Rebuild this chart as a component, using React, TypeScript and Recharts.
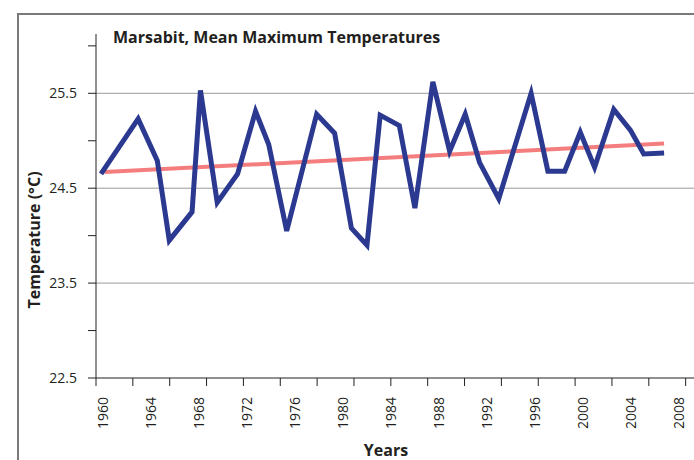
import React from "react";
import { LineChart, Line, XAxis, YAxis, ReferenceLine } from "recharts";

// Mean maximum temperature series (year positions as drawn, °C)
const years = [
  1960, 1963.1, 1964.7, 1965.7, 1967.6, 1968.3, 1969.7, 1971.4, 1972.9, 1974.0,
  1975.5, 1978.0, 1979.5, 1980.9, 1982.2, 1983.3, 1984.9, 1986.2, 1987.7, 1989.1,
  1990.4, 1991.6, 1993.2, 1995.9, 1997.3, 1998.7, 2000.0, 2001.2, 2002.8, 2004.2,
  2005.3, 2007,
];
const temps = [
  24.65, 25.23, 24.79, 23.95, 24.25, 25.53, 24.35, 24.65, 25.31, 24.96,
  24.05, 25.28, 25.08, 24.08, 23.9, 25.27, 25.16, 24.29, 25.62, 24.89,
  25.28, 24.77, 24.39, 25.5, 24.68, 24.68, 25.09, 24.72, 25.33, 25.11,
  24.86, 24.87,
];

// Linear trend (as drawn)
const trendYears = [1960.3, 2007];
const trendTemps = [24.67, 24.97];

// Axis labels / ticks
const xLabelYears = [1960, 1964, 1968, 1972, 1976, 1980, 1984, 1988, 1992, 1996, 2000, 2004, 2008];
const xMarkStart = 1959.583;
const xMarkStep = 3.076;
const xMarks = Array.from({ length: 18 }, (_, k) => +(xMarkStart + k * xMarkStep).toFixed(3));
const yTicks = [22.5, 23, 23.5, 24, 24.5, 25, 25.5, 26];
const yGrid = [23.5, 24.5, 25.5];

const title = "Marsabit, Mean Maximum Temperatures";
const xTitle = "Years";
const yTitle = "Temperature (°C)";

const blueData = years.map((y, i) => ({ year: y, temp: temps[i] }));
const trendData = trendYears.map((y, i) => ({ year: y, temp: trendTemps[i] }));

const FONT = "'Open Sans', 'Noto Sans', sans-serif";
const INK = "#231F20";

const XTick = (props: any) => {
  const { x, y, payload } = props;
  const v = payload.value;
  if (xLabelYears.includes(v)) {
    const ay = y + 19;
    return (
      <text
        x={x + 2}
        y={ay}
        transform={`rotate(-90, ${x + 2}, ${ay})`}
        textAnchor="end"
        dominantBaseline="central"
        fontSize={14}
        fontFamily={FONT}
        fill={INK}
      >
        {v}
      </text>
    );
  }
  return <line x1={x} x2={x} y1={y} y2={y + 8} stroke={INK} strokeWidth={1} />;
};

export default function App() {
  return (
    <div
      style={{
        position: "absolute",
        left: 0,
        top: 0,
        width: 694,
        height: 460,
        overflow: "hidden",
        background: "#fff",
        fontFamily: FONT,
      }}
    >
      <div
        style={{
          position: "absolute",
          left: 17,
          top: 13,
          width: 900,
          height: 900,
          borderLeft: "2px solid #7a7a7a",
          borderTop: "2px solid #7a7a7a",
        }}
      />
      <div style={{ position: "absolute", left: 0, top: 0 }}>
        <LineChart
          width={760}
          height={460}
          margin={{ top: 34, right: 30, bottom: 0, left: 0 }}
        >
          <XAxis
            type="number"
            dataKey="year"
            domain={[1959.583, 2012.5]}
            allowDataOverflow
            ticks={[...xMarks, ...xLabelYears]}
            interval={0}
            tickSize={0}
            tickMargin={0}
            tickLine={false}
            tick={<XTick />}
            height={82}
            axisLine={{ stroke: INK, strokeWidth: 1 }}
          />
          <YAxis
            type="number"
            domain={[22.5, 26.125]}
            allowDataOverflow
            ticks={yTicks}
            interval={0}
            width={96}
            tickSize={8}
            tickMargin={11}
            tickFormatter={(v: number) => (Math.abs((v % 1) - 0.5) < 1e-6 ? v.toFixed(1) : "")}
            tick={{ fontSize: 14, fill: INK, fontFamily: FONT }}
            tickLine={{ stroke: INK, strokeWidth: 1 }}
            axisLine={{ stroke: INK, strokeWidth: 1 }}
          />
          {yGrid.map((g) => (
            <ReferenceLine key={g} y={g} stroke="#9a9a9a" strokeWidth={1} />
          ))}
          <Line
            data={trendData}
            dataKey="temp"
            type="linear"
            stroke="#F47E7E"
            strokeWidth={4}
            dot={false}
            isAnimationActive={false}
          />
          <Line
            data={blueData}
            dataKey="temp"
            type="linear"
            stroke="#2B3990"
            strokeWidth={5}
            dot={false}
            isAnimationActive={false}
          />
        </LineChart>
      </div>
      <svg
        width={694}
        height={460}
        style={{ position: "absolute", left: 0, top: 0, pointerEvents: "none" }}
      >
        <text x={113} y={42.5} fontSize={16} fontWeight="bold" fontFamily={FONT} fill={INK}>
          {title}
        </text>
        <text x={386} y={456} fontSize={16} fontWeight="bold" fontFamily={FONT} fill={INK} textAnchor="middle">
          {xTitle}
        </text>
        <text
          x={34}
          y={240}
          transform="rotate(-90, 34, 240)"
          fontSize={16}
          fontWeight="bold"
          fontFamily={FONT}
          fill={INK}
          textAnchor="middle"
          dominantBaseline="central"
        >
          {yTitle}
        </text>
      </svg>
    </div>
  );
}
